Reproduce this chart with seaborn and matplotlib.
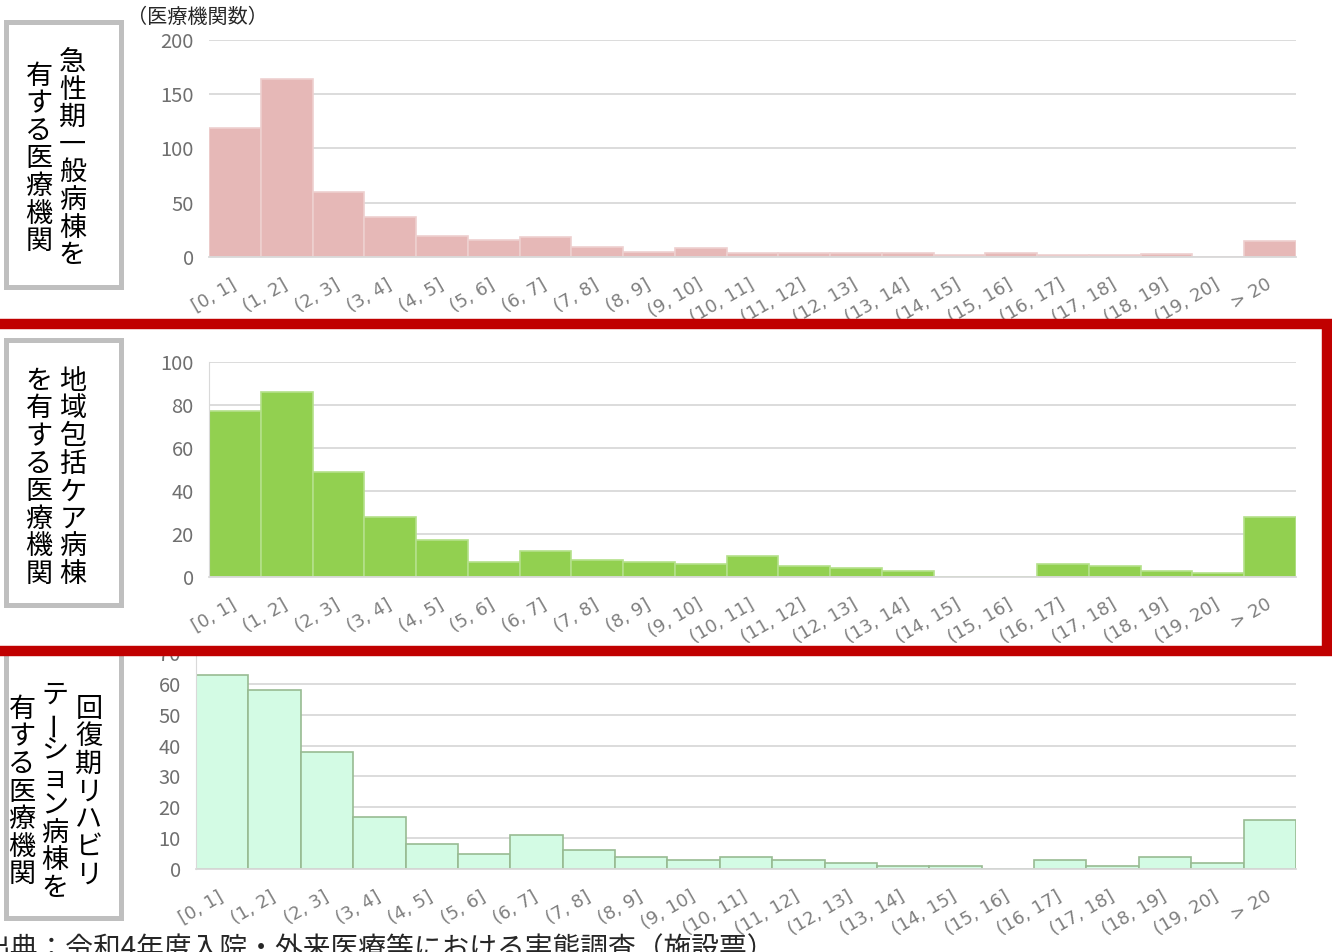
import matplotlib
matplotlib.use("Agg")
import matplotlib.pyplot as plt
import seaborn as sns
from matplotlib.patches import Rectangle

# bins (days) shared by the three histograms
bins = ["[0, 1]", "(1, 2]", "(2, 3]", "(3, 4]", "(4, 5]", "(5, 6]", "(6, 7]",
        "(7, 8]", "(8, 9]", "(9, 10]", "(10, 11]", "(11, 12]", "(12, 13]",
        "(13, 14]", "(14, 15]", "(15, 16]", "(16, 17]", "(17, 18]", "(18, 19]",
        "(19, 20]", "> 20"]

# number of hospitals per bin
acute = [119, 164, 60, 37, 19, 16, 18, 9, 5, 8, 4, 4, 4, 4, 2, 4, 2, 2, 3, 0, 15]
community = [77, 86, 49, 28, 17, 7, 12, 8, 7, 6, 10, 5, 4, 3, 0, 0, 6, 5, 3, 2, 28]
rehab = [63, 58, 38, 17, 8, 5, 11, 6, 4, 3, 4, 3, 2, 1, 1, 0, 3, 1, 4, 2, 16]

side_labels = [["急性期一般病棟を", "有する医療機関"],
               ["地域包括ケア病棟", "を有する医療機関"],
               ["回復期リハビリ", "テーション病棟を", "有する医療機関"]]
y_unit = "（医療機関数）"
source = "出典：令和4年度入院・外来医療等における実態調査（施設票）"

sns.set_style("white")
plt.rcParams["font.family"] = ["Noto Sans CJK JP", "DejaVu Sans"]

W, H = 1332, 952
fig = plt.figure(figsize=(W / 100, H / 100), dpi=100)


def px_axes(left, right, top, bottom):
    return fig.add_axes([left / W, 1 - bottom / H, (right - left) / W, (bottom - top) / H])


panels = [
    # values, face, edge, (left, right, top, bottom), ymax, step, left spine
    (acute, "#e6b8b7", "#eed0cf", (209, 1296, 40, 257), 200, 50, False),
    (community, "#92d050", "#b4e08a", (209, 1296, 362, 577), 100, 20, True),
    (rehab, "#d3fbe4", "#98bb92", (196, 1296, 653, 869), 70, 10, True),
]

for vals, face, edge, box, ymax, step, lspine in panels:
    ax = px_axes(*box)
    sns.barplot(x=bins, y=vals, color=face, saturation=1, width=1,
                edgecolor=edge, linewidth=1.2, ax=ax)
    ax.set_xlim(-0.5, len(bins) - 0.5)
    ax.set_ylim(0, ymax)
    ax.set_yticks(range(0, ymax + 1, step))
    ax.set_xlabel("")
    ax.set_ylabel("")
    ax.set_axisbelow(True)
    ax.yaxis.grid(True, color="#d9d9d9", lw=1.3)
    for s in ["top", "right"]:
        ax.spines[s].set_visible(False)
    ax.spines["left"].set_visible(lspine)
    ax.spines["left"].set_color("#d9d9d9")
    ax.spines["bottom"].set_color("#d9d9d9")
    ax.spines["bottom"].set_linewidth(1.3)
    ax.tick_params(axis="y", length=0, pad=11, labelsize=14.5, labelcolor="#6f6f6f")
    ax.tick_params(axis="x", length=0, pad=19, labelsize=13, labelcolor="#7f7f7f")
    for lab in ax.get_xticklabels():
        lab.set_family("DejaVu Sans")
        lab.set_rotation(30)
        lab.set_ha("right")
        lab.set_va("center")
        lab.set_rotation_mode("anchor")


def vertical_text(x, yc, text, step=27.6, size=19.5):
    top = yc - step * (len(text) - 1) / 2
    for i, ch in enumerate(text):
        rot = 90 if ch == "ー" else 0
        fig.text(x / W, 1 - (top + i * step) / H, ch, ha="center", va="center",
                 fontsize=size, rotation=rot, color="black")


# grey boxes with vertical labels
boxes = [(5.5, 121.5, 22, 287), (5.5, 121.5, 340, 605), (5.5, 120.5, 651, 918)]
cols = [[(72.5, 159), (39, 159)], [(73, 478), (39, 478)], [(89, 792), (55, 792), (22, 792)]]
for (l, r, t, b), texts, pos in zip(boxes, side_labels, cols):
    fig.add_artist(Rectangle((l / W, 1 - b / H), (r - l) / W, (b - t) / H,
                             transform=fig.transFigure, fill=False,
                             edgecolor="#bfbfbf", lw=3.6, zorder=5))
    for txt, (x, yc) in zip(texts, pos):
        vertical_text(x, yc, txt)

# red highlight around the middle panel
fig.add_artist(Rectangle((-10 / W, 1 - 651 / H), 1337 / W, (651 - 324) / H,
                         transform=fig.transFigure, fill=False,
                         edgecolor="#c00000", lw=7.5, zorder=10))

fig.text(127 / W, 1 - 17 / H, y_unit, ha="left", va="center", fontsize=14.5)
fig.text(-17 / W, 1 - 934 / H, source, ha="left", va="top", fontsize=20)

fig.savefig("out.png", dpi=100)
